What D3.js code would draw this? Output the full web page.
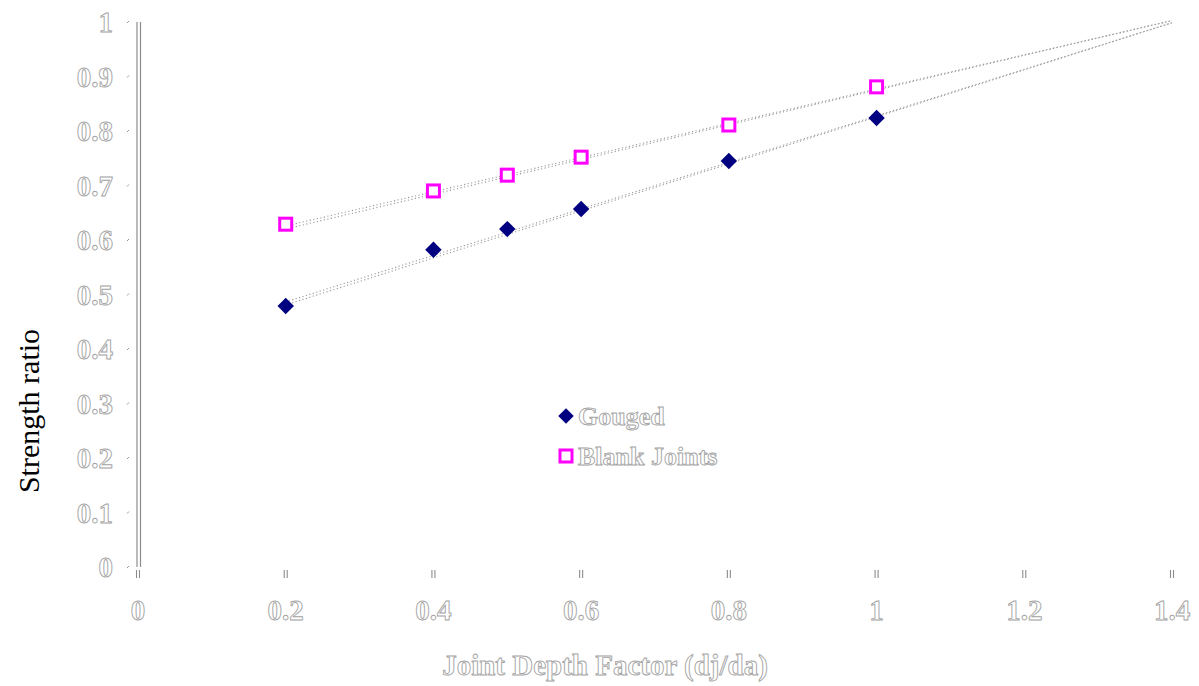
<!DOCTYPE html>
<html><head><meta charset="utf-8">
<script src="https://cdn.jsdelivr.net/npm/d3@7"></script>
<style>
html,body{margin:0;padding:0;background:#fff;}
svg{display:block;}
.ol{fill:#fff;stroke:#a3a3a3;stroke-width:0.9px;font-family:"Liberation Serif",serif;font-weight:bold;}
</style></head>
<body>
<svg id="c" width="1199" height="686"></svg>
<script>
const depthFactor = [0.2, 0.4, 0.5, 0.6, 0.8, 1.0];
const gouged = [0.479, 0.582, 0.620, 0.657, 0.745, 0.824];
const blankJoints = [0.629, 0.690, 0.719, 0.752, 0.811, 0.881];
const xTicks = [0, 0.2, 0.4, 0.6, 0.8, 1, 1.2, 1.4];
const yTicks = [0, 0.1, 0.2, 0.3, 0.4, 0.5, 0.6, 0.7, 0.8, 0.9, 1];
const seriesNames = ["Gouged", "Blank Joints"];

const svg = d3.select("#c");
const x = d3.scaleLinear().domain([0, 1.4]).range([138, 1172]);
const y = d3.scaleLinear().domain([0, 1]).range([567, 22]);

// y axis double line
svg.append("line").attr("x1",137).attr("x2",137).attr("y1",y(1)).attr("y2",y(0)).attr("stroke","#8c8c8c").attr("stroke-width",1.2);
svg.append("line").attr("x1",140.5).attr("x2",140.5).attr("y1",y(1)).attr("y2",y(0)).attr("stroke","#8c8c8c").attr("stroke-width",1.2);

// y ticks
const yg = svg.append("g");
yTicks.forEach(t=>{
  yg.append("line").attr("x1",127).attr("x2",129).attr("y1",y(t)+1).attr("y2",y(t)-1).attr("stroke","#999").attr("stroke-width",1);
  yg.append("text").attr("class","ol").attr("x",113).attr("y",y(t)).attr("dy","0.35em")
    .attr("text-anchor","end").attr("font-size",29).text(d3.format("")(t));
});
// x ticks
const xg = svg.append("g");
xTicks.forEach(t=>{
  [-1.5,1.5].forEach(o=>{
    xg.append("line").attr("x1",x(t)+o).attr("x2",x(t)+o).attr("y1",570).attr("y2",578).attr("stroke","#8c8c8c").attr("stroke-width",1.1);
  });
  xg.append("text").attr("class","ol").attr("x",x(t)).attr("y",610).attr("dy","0.35em")
    .attr("text-anchor","middle").attr("font-size",29).text(d3.format("")(t));
});

// trendlines (linear regression)
function reg(xs, ys){
  const mx=d3.mean(xs), my=d3.mean(ys);
  const sxy=d3.sum(xs,(v,i)=>(v-mx)*(ys[i]-my)), sxx=d3.sum(xs,v=>(v-mx)*(v-mx));
  const b=sxy/sxx; return {a:my-b*mx,b};
}
[gouged, blankJoints].forEach(ys=>{
  const r=reg(depthFactor, ys);
  const x0=depthFactor[0], x1=1.4;
  [[0,0],[3,0]].forEach(off=>{
    svg.append("line")
      .attr("x1",x(x0)+3).attr("y1",y(r.a+r.b*x0)+off[0])
      .attr("x2",x(x1)).attr("y2",y(r.a+r.b*x1)+off[1])
      .attr("stroke","#999").attr("stroke-width",1.1).attr("stroke-dasharray","1.2,2.4");
  });
});

// markers
svg.append("g").selectAll("path").data(depthFactor).join("path")
  .attr("d", d3.symbol().type(d3.symbolSquare).size(135))
  .attr("transform",(d,i)=>`translate(${x(d)},${y(gouged[i])}) rotate(45)`)
  .attr("fill","#000080");
svg.append("g").selectAll("rect").data(depthFactor).join("rect")
  .attr("x",d=>x(d)-6).attr("y",(d,i)=>y(blankJoints[i])-6).attr("width",12).attr("height",12)
  .attr("fill","#fff").attr("stroke","#ff00ff").attr("stroke-width",3);

// legend
const lg = svg.append("g");
lg.append("path").attr("d", d3.symbol().type(d3.symbolSquare).size(120)).attr("transform","translate(566,416) rotate(45)").attr("fill","#000080");
lg.append("rect").attr("x",560).attr("y",450).attr("width",12).attr("height",12).attr("fill","#fff").attr("stroke","#ff00ff").attr("stroke-width",3);
lg.append("text").attr("class","ol").attr("x",578).attr("y",416).attr("dy","0.35em").attr("font-size",26).text(seriesNames[0]);
lg.append("text").attr("class","ol").attr("x",578).attr("y",456).attr("dy","0.35em").attr("font-size",26).text(seriesNames[1]);

// axis titles
svg.append("text").attr("class","ol").attr("x",605).attr("y",665).attr("dy","0.35em").attr("text-anchor","middle")
  .attr("font-size",29).text("Joint Depth Factor (dj/da)");
svg.append("text").attr("transform","translate(28,411) rotate(-90)").attr("dy","0.35em").attr("text-anchor","middle")
  .attr("font-family","Liberation Serif, serif").attr("font-size",30).attr("fill","#000").text("Strength ratio");
</script>
</body></html>
